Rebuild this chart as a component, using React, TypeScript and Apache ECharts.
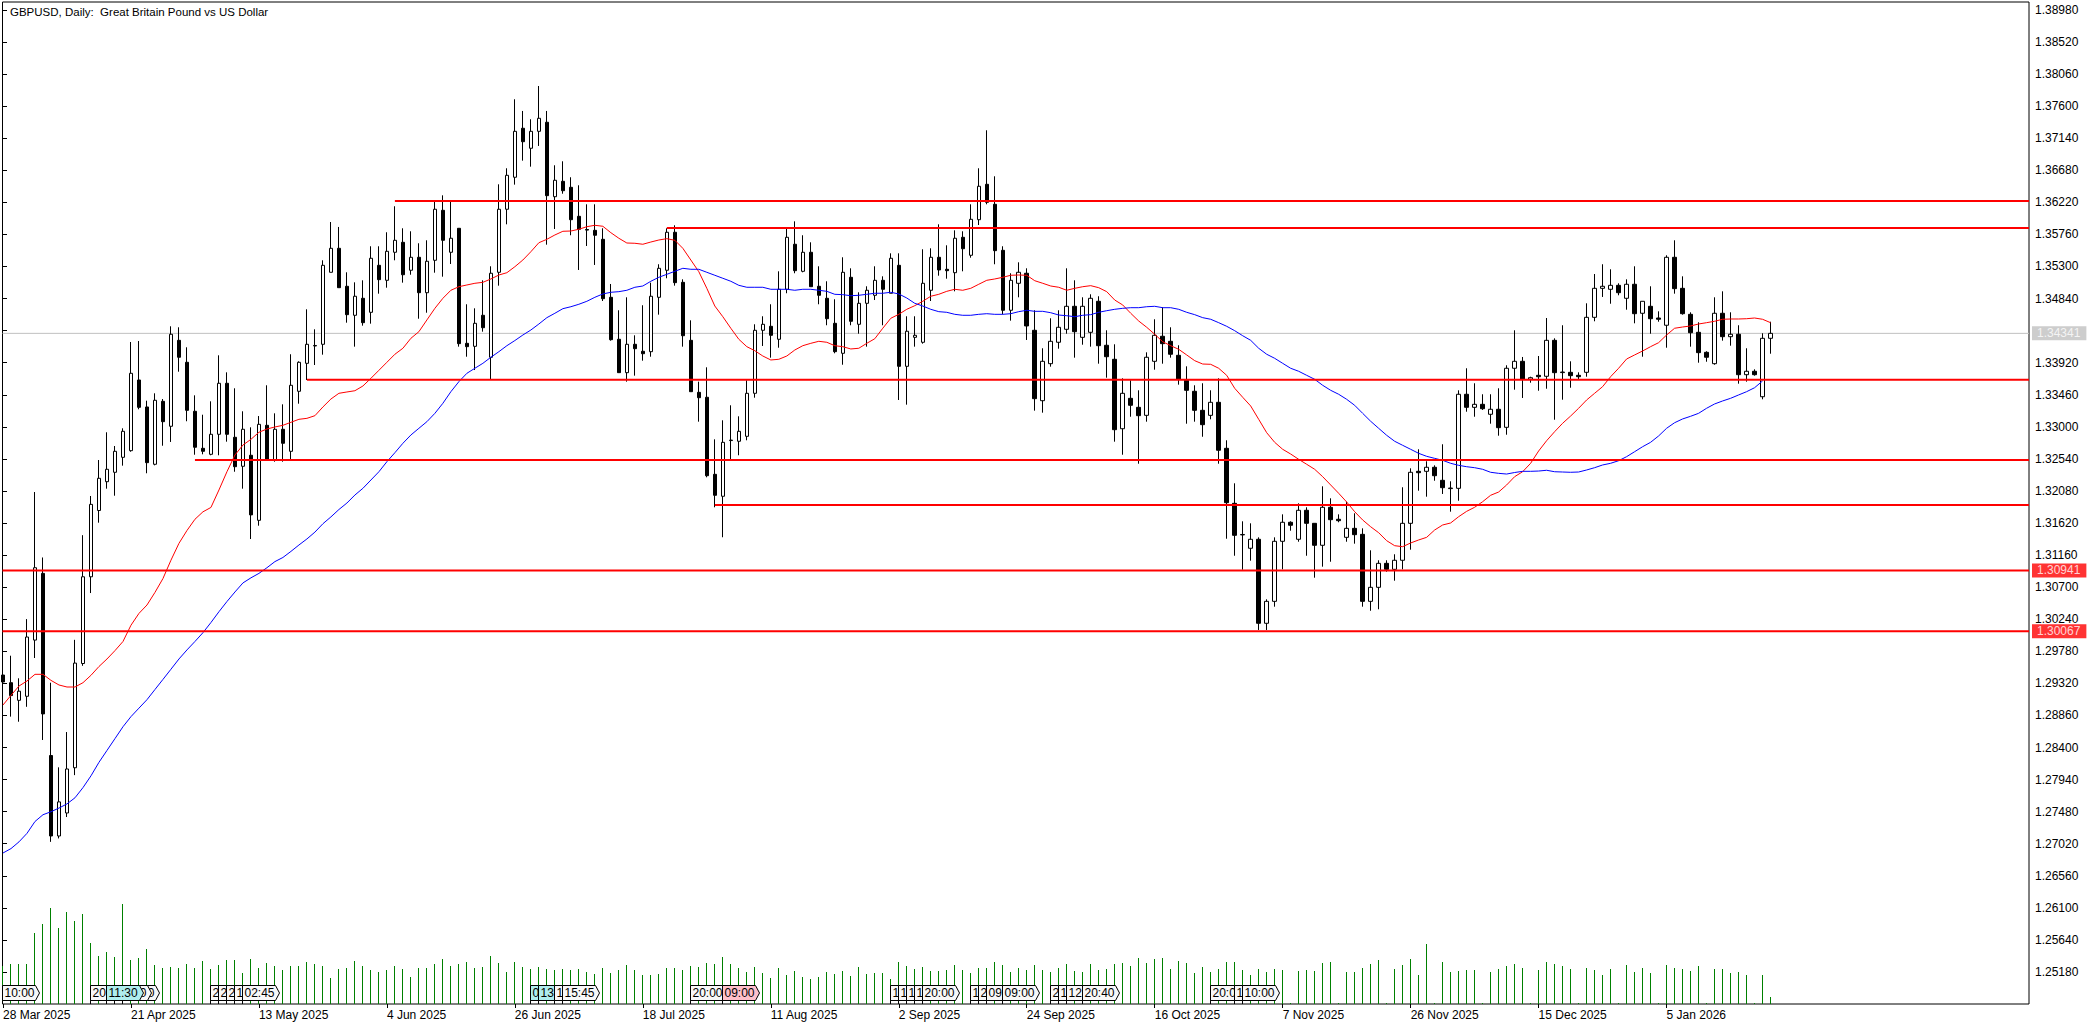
import React, { useEffect, useRef } from "react";
import * as echarts from "echarts";

const FONT = '"Liberation Sans", sans-serif';
const TITLE = "GBPUSD, Daily:  Great Britain Pound vs US Dollar";

// daily bars, oldest first
const opens = [
  1.2944, 1.2933, 1.29077, 1.29135, 1.29941, 1.30898, 1.28285, 1.27131, 1.27461, 1.2811,
  1.29605, 1.30849, 1.318, 1.32213, 1.32348, 1.32563, 1.32658, 1.33672, 1.33285, 1.32463,
  1.33366, 1.33008, 1.34241, 1.33926, 1.33223, 1.32692, 1.32606, 1.32893, 1.33625, 1.3285,
  1.32434, 1.32592, 1.31659, 1.33022, 1.32524, 1.32965, 1.32649, 1.3351, 1.33911, 1.3416,
  1.34184, 1.35217, 1.35561, 1.35016, 1.346, 1.34844, 1.34643, 1.35317, 1.35102, 1.35504,
  1.35647, 1.35246, 1.35432, 1.34924, 1.35389, 1.36106, 1.35504, 1.35848, 1.34198, 1.34155,
  1.346, 1.33998, 1.35217, 1.36121, 1.3658, 1.37283, 1.36996, 1.37239, 1.37369, 1.36301,
  1.36522, 1.36436, 1.3602, 1.3583, 1.35819, 1.3569, 1.34858, 1.34256, 1.33777, 1.34184,
  1.34084, 1.34078, 1.34858, 1.35246, 1.35791, 1.35073, 1.34241, 1.33495, 1.33424, 1.32319,
  1.32004, 1.32803, 1.32793, 1.32864, 1.33481, 1.34385, 1.34442, 1.34256, 1.34973, 1.35619,
  1.35231, 1.35504, 1.35016, 1.34844, 1.34485, 1.34055, 1.35145, 1.34471, 1.34772, 1.34887,
  1.35102, 1.34916, 1.35317, 1.33868, 1.34284, 1.34213, 1.34959, 1.35432, 1.3526, 1.35211,
  1.35719, 1.35461, 1.35971, 1.36479, 1.36192, 1.35532, 1.34672, 1.35059, 1.35203, 1.34385,
  1.33375, 1.33906, 1.34213, 1.34399, 1.34729, 1.34284, 1.34356, 1.34801, 1.3417, 1.33969,
  1.32973, 1.33409, 1.3328, 1.33165, 1.3394, 1.34299, 1.34227, 1.34026, 1.33668, 1.3351,
  1.33237, 1.33165, 1.33352, 1.32692, 1.31903, 1.3145, 1.31258, 1.31387, 1.30182, 1.30497,
  1.31358, 1.31631, 1.31387, 1.31803, 1.31616, 1.31301, 1.31846, 1.31674, 1.31415, 1.31544,
  1.31458, 1.30497, 1.30698, 1.31042, 1.30956, 1.31086, 1.31616, 1.32362, 1.32362, 1.3242,
  1.32233, 1.32114, 1.32118, 1.33467, 1.3328, 1.33323, 1.3318, 1.33252, 1.32993, 1.3384,
  1.3394, 1.33682, 1.33739, 1.33725, 1.34241, 1.33778, 1.33782, 1.33739, 1.33782, 1.34571,
  1.34987, 1.34973, 1.3503, 1.34844, 1.35045, 1.34629, 1.34729, 1.34561, 1.34457, 1.35432,
  1.34987, 1.34614, 1.34356, 1.34069, 1.33906, 1.34629, 1.34293, 1.34328, 1.33748, 1.33797,
  1.33432, 1.3427,
];
const closes = [
  1.2934, 1.29145, 1.29208, 1.29985, 1.30979, 1.28882, 1.27131, 1.2762, 1.28092, 1.29611,
  1.30849, 1.31888, 1.32262, 1.32391, 1.32649, 1.32936, 1.33768, 1.3328, 1.32486, 1.33381,
  1.33074, 1.34328, 1.33998, 1.33237, 1.32707, 1.32649, 1.32893, 1.33625, 1.32893, 1.32428,
  1.32965, 1.31737, 1.33036, 1.32534, 1.32965, 1.32764, 1.33596, 1.33926, 1.34184, 1.34167,
  1.35317, 1.35561, 1.34996, 1.34609, 1.34873, 1.34494, 1.35418, 1.35111, 1.35518, 1.35676,
  1.35182, 1.35432, 1.34924, 1.35375, 1.36121, 1.35676, 1.35705, 1.34193, 1.3415, 1.34485,
  1.34422, 1.35203, 1.36121, 1.36608, 1.37239, 1.3709, 1.37239, 1.37426, 1.36316, 1.36537,
  1.36387, 1.35971, 1.35834, 1.35822, 1.35748, 1.34838, 1.3425, 1.33777, 1.34184, 1.34121,
  1.34049, 1.34873, 1.35274, 1.35791, 1.35068, 1.34307, 1.33504, 1.33418, 1.32299, 1.32018,
  1.32778, 1.3281, 1.32936, 1.33481, 1.34385, 1.34471, 1.34313, 1.34973, 1.35719, 1.3524,
  1.35504, 1.3501, 1.34887, 1.34551, 1.34078, 1.35217, 1.34514, 1.34772, 1.34959, 1.35102,
  1.34973, 1.35418, 1.33868, 1.34371, 1.34313, 1.35059, 1.35432, 1.3525, 1.3524, 1.35705,
  1.35555, 1.35977, 1.36451, 1.36221, 1.35527, 1.34672, 1.35102, 1.35217, 1.34447, 1.33404,
  1.3394, 1.34227, 1.34428, 1.34729, 1.34365, 1.34729, 1.34844, 1.34164, 1.34006, 1.32959,
  1.33481, 1.33309, 1.3316, 1.33998, 1.34313, 1.34193, 1.34041, 1.33682, 1.33524, 1.33237,
  1.33031, 1.33352, 1.32664, 1.31912, 1.31444, 1.31456, 1.31387, 1.30182, 1.30497, 1.31358,
  1.31631, 1.31588, 1.31803, 1.31616, 1.31301, 1.31846, 1.31668, 1.31654, 1.31544, 1.31453,
  1.30497, 1.30698, 1.31042, 1.30956, 1.31086, 1.31616, 1.32348, 1.32342, 1.3242, 1.32299,
  1.32127, 1.32122, 1.33467, 1.3328, 1.33323, 1.3326, 1.33252, 1.32988, 1.3384, 1.3394,
  1.33682, 1.33705, 1.33719, 1.34241, 1.33777, 1.33786, 1.33734, 1.33719, 1.34571, 1.34987,
  1.35016, 1.3503, 1.34924, 1.35045, 1.34623, 1.34801, 1.34551, 1.34543, 1.35432, 1.34982,
  1.34623, 1.3435, 1.34064, 1.33998, 1.34629, 1.34293, 1.34328, 1.33748, 1.33797, 1.33748,
  1.3427, 1.34341,
];
const lows = [
  1.28852, 1.28843, 1.2877, 1.28984, 1.29684, 1.28508, 1.27047, 1.27096, 1.27403, 1.28004,
  1.29572, 1.30616, 1.31625, 1.32113, 1.32012, 1.32443, 1.32643, 1.33252, 1.32334, 1.32448,
  1.32729, 1.32783, 1.33791, 1.3308, 1.326, 1.32606, 1.32592, 1.32592, 1.32787, 1.32356,
  1.32113, 1.31391, 1.31582, 1.32534, 1.325, 1.325, 1.32524, 1.33332, 1.33672, 1.33887,
  1.34035, 1.35217, 1.34996, 1.34494, 1.3415, 1.34451, 1.3448, 1.3491, 1.34996, 1.35389,
  1.35068, 1.35182, 1.34551, 1.34637, 1.35211, 1.35154, 1.35336, 1.3415, 1.34006, 1.33815,
  1.34365, 1.33682, 1.35025, 1.35905, 1.36474, 1.36818, 1.36732, 1.37029, 1.35613, 1.35838,
  1.36344, 1.35748, 1.3525, 1.35594, 1.35322, 1.34805, 1.34236, 1.33777, 1.33648, 1.33734,
  1.33949, 1.34006, 1.34609, 1.35131, 1.35025, 1.3415, 1.33504, 1.33074, 1.32276, 1.31846,
  1.31416, 1.32524, 1.32592, 1.32807, 1.33418, 1.3416, 1.33992, 1.34135, 1.34916, 1.35203,
  1.35217, 1.3501, 1.34758, 1.34457, 1.34055, 1.33891, 1.34457, 1.34336, 1.3415, 1.34819,
  1.34457, 1.34916, 1.33385, 1.33318, 1.3415, 1.34193, 1.34805, 1.35168, 1.35125, 1.34944,
  1.35231, 1.35426, 1.35895, 1.36192, 1.35332, 1.34614, 1.34523, 1.34858, 1.34246, 1.33232,
  1.33203, 1.33863, 1.34121, 1.34336, 1.33992, 1.34178, 1.3415, 1.33906, 1.33705, 1.32787,
  1.326, 1.33145, 1.32471, 1.33074, 1.3382, 1.33906, 1.33992, 1.33605, 1.33045, 1.33074,
  1.32858, 1.33108, 1.32471, 1.31395, 1.31151, 1.30951, 1.3108, 1.30086, 1.30086, 1.3042,
  1.30956, 1.3151, 1.31352, 1.31151, 1.30836, 1.30994, 1.31065, 1.31631, 1.31352, 1.31324,
  1.3042, 1.30362, 1.30383, 1.30922, 1.30793, 1.30956, 1.31238, 1.32084, 1.31998, 1.32227,
  1.32037, 1.31783, 1.3194, 1.33217, 1.33145, 1.33242, 1.33045, 1.32873, 1.32887, 1.33533,
  1.33414, 1.33633, 1.33518, 1.33547, 1.33102, 1.33389, 1.33561, 1.33682, 1.33719, 1.34514,
  1.34863, 1.34766, 1.34887, 1.3468, 1.34485, 1.34006, 1.34336, 1.34508, 1.34135, 1.3491,
  1.34609, 1.3415, 1.3392, 1.33934, 1.33891, 1.34236, 1.34164, 1.33619, 1.33648, 1.33734,
  1.33395, 1.34049,
];
const highs = [
  1.29655, 1.29717, 1.29393, 1.30242, 1.32065, 1.31126, 1.2933, 1.28116, 1.28622, 1.29945,
  1.31446, 1.32008, 1.32524, 1.32922, 1.32725, 1.32979, 1.34217, 1.34231, 1.33375, 1.33481,
  1.33399, 1.34442, 1.34428, 1.34141, 1.33452, 1.33174, 1.33366, 1.34026, 1.33782, 1.33553,
  1.33223, 1.32993, 1.33155, 1.33596, 1.33194, 1.33323, 1.34041, 1.3394, 1.34686, 1.34399,
  1.35389, 1.35938, 1.35867, 1.35217, 1.35073, 1.35102, 1.3559, 1.3559, 1.35791, 1.36164,
  1.35848, 1.35805, 1.35633, 1.35676, 1.36235, 1.36321, 1.36235, 1.35848, 1.34758, 1.347,
  1.35102, 1.35303, 1.36479, 1.36709, 1.37699, 1.37531, 1.37412, 1.37889, 1.37531, 1.36752,
  1.36809, 1.3658, 1.36465, 1.36192, 1.36192, 1.35848, 1.35049, 1.34672, 1.34858, 1.34313,
  1.34744, 1.35068, 1.35332, 1.35848, 1.35891, 1.35116, 1.34528, 1.33648, 1.33854, 1.32821,
  1.33094, 1.33309, 1.33151, 1.33668, 1.34471, 1.34586, 1.34758, 1.35231, 1.35848, 1.35948,
  1.35748, 1.35647, 1.35303, 1.35088, 1.3483, 1.35432, 1.35274, 1.3493, 1.35016, 1.35303,
  1.35159, 1.35489, 1.35489, 1.34586, 1.34586, 1.35547, 1.35561, 1.35905, 1.35604, 1.35819,
  1.35805, 1.36192, 1.36709, 1.37254, 1.36594, 1.3559, 1.35203, 1.3536, 1.35274, 1.34672,
  1.34127, 1.34557, 1.34672, 1.35274, 1.35102, 1.34858, 1.34901, 1.34873, 1.34385, 1.34184,
  1.33696, 1.33668, 1.33524, 1.34069, 1.34543, 1.34715, 1.34428, 1.3417, 1.33868, 1.33596,
  1.33625, 1.33524, 1.33696, 1.32807, 1.3219, 1.31645, 1.31616, 1.31415, 1.30526, 1.31415,
  1.31745, 1.31645, 1.31903, 1.31846, 1.31616, 1.32147, 1.31975, 1.31745, 1.31926, 1.3176,
  1.31544, 1.31229, 1.31086, 1.31086, 1.31172, 1.32133, 1.32405, 1.32678, 1.32506, 1.32448,
  1.3275, 1.32219, 1.33524, 1.3384, 1.33625, 1.33467, 1.33467, 1.33553, 1.33883, 1.34385,
  1.34002, 1.33719, 1.34016, 1.34561, 1.3427, 1.34457, 1.3394, 1.33782, 1.34772, 1.35192,
  1.35332, 1.3526, 1.35059, 1.35116, 1.35303, 1.34801, 1.35016, 1.34657, 1.35461, 1.35676,
  1.35159, 1.34643, 1.345, 1.34084, 1.34858, 1.34944, 1.34643, 1.34457, 1.34127, 1.33825,
  1.34342, 1.34508,
];

const redMa = [
  1.2901, 1.29149, 1.29282, 1.29354, 1.2945, 1.2945, 1.29363, 1.29297, 1.29268, 1.29268,
  1.2933, 1.29436, 1.29562, 1.2967, 1.2979, 1.29921, 1.30154, 1.30324, 1.30444, 1.30625,
  1.30824, 1.31087, 1.31329, 1.31513, 1.31674, 1.31781, 1.31844, 1.32094, 1.32356, 1.32596,
  1.32739, 1.32821, 1.32922, 1.32969, 1.32998, 1.33022, 1.33065, 1.33108, 1.33122, 1.3316,
  1.33285, 1.33399, 1.33481, 1.335, 1.33518, 1.33586, 1.33696, 1.33811, 1.33926, 1.34041,
  1.34127, 1.3427, 1.34365, 1.34533, 1.347, 1.34844, 1.34959, 1.3501, 1.35035, 1.35059,
  1.35073, 1.35121, 1.35178, 1.35211, 1.35297, 1.35393, 1.35512, 1.35641, 1.3569, 1.35752,
  1.35805, 1.35809, 1.35834, 1.35871, 1.35891, 1.35877, 1.35785, 1.35705, 1.35637, 1.35633,
  1.35619, 1.35651, 1.3568, 1.35699, 1.35676, 1.35561, 1.35393, 1.35225, 1.34987, 1.34733,
  1.3458, 1.34414, 1.34256, 1.3415, 1.34092, 1.34016, 1.33959, 1.33969, 1.34016, 1.34102,
  1.34164, 1.34198, 1.34227, 1.34213, 1.34164, 1.3415, 1.34117, 1.34127, 1.34198, 1.34264,
  1.34414, 1.34557, 1.34614, 1.34686, 1.34738, 1.34801, 1.34873, 1.34901, 1.34944, 1.34973,
  1.34959, 1.34987, 1.35045, 1.35102, 1.35121, 1.35145, 1.35174, 1.35178, 1.35174, 1.35096,
  1.35059, 1.3502, 1.35002, 1.34959, 1.34987, 1.3501, 1.35025, 1.34996, 1.34939, 1.34819,
  1.34748, 1.34629, 1.34518, 1.34428, 1.34328, 1.34221, 1.34164, 1.34112, 1.34031, 1.33949,
  1.33901, 1.33897, 1.3384, 1.33739, 1.33553, 1.33424, 1.33299, 1.33108, 1.32916, 1.32778,
  1.32678, 1.3261, 1.32534, 1.32463, 1.32391, 1.32285, 1.32166, 1.32047, 1.31922, 1.31783,
  1.31664, 1.31567, 1.31481, 1.31367, 1.31295, 1.31281, 1.31334, 1.31377, 1.31415, 1.3152,
  1.31592, 1.31621, 1.31711, 1.31788, 1.31846, 1.31926, 1.32018, 1.32065, 1.32166, 1.32285,
  1.32356, 1.32477, 1.32653, 1.32801, 1.3293, 1.33051, 1.33155, 1.33266, 1.33385, 1.33481,
  1.33576, 1.33719, 1.3384, 1.33973, 1.34031, 1.34088, 1.3415, 1.34207, 1.34317, 1.34414,
  1.34432, 1.34447, 1.34475, 1.34494, 1.34514, 1.34543, 1.34547, 1.34547, 1.34551, 1.34561,
  1.34543, 1.34494,
];
const blueMa = [
  1.26887, 1.2695, 1.27047, 1.27169, 1.27339, 1.27436, 1.27479, 1.27532, 1.27591, 1.27679,
  1.27825, 1.27994, 1.28188, 1.28358, 1.28528, 1.28698, 1.28843, 1.28965, 1.29086, 1.29232,
  1.29377, 1.29523, 1.2967, 1.298, 1.29921, 1.30047, 1.30193, 1.30348, 1.30494, 1.30631,
  1.30761, 1.30834, 1.30898, 1.30979, 1.31067, 1.31126, 1.31213, 1.31305, 1.31392, 1.3149,
  1.3161, 1.31708, 1.31814, 1.31907, 1.32022, 1.32118, 1.32237, 1.32356, 1.325, 1.32629,
  1.32764, 1.32883, 1.32979, 1.33074, 1.33194, 1.33338, 1.33504, 1.33648, 1.33768, 1.3384,
  1.33911, 1.33998, 1.34078, 1.34164, 1.34238, 1.34317, 1.34389, 1.34475, 1.34566, 1.34629,
  1.34695, 1.34723, 1.34758, 1.34801, 1.34858, 1.34906, 1.3493, 1.34939, 1.34959, 1.35002,
  1.3502, 1.35088, 1.35145, 1.35188, 1.35231, 1.35274, 1.3526, 1.3526, 1.35217, 1.35174,
  1.35131, 1.35088, 1.3503, 1.35002, 1.35002, 1.35002, 1.34973, 1.34973, 1.34973, 1.34959,
  1.34973, 1.34973, 1.34959, 1.34944, 1.34901, 1.34896, 1.34881, 1.34887, 1.34901, 1.34916,
  1.34916, 1.3493, 1.34906, 1.34848, 1.34772, 1.34733, 1.34686, 1.34652, 1.34643, 1.34614,
  1.346, 1.346, 1.34614, 1.34623, 1.34614, 1.34614, 1.34623, 1.34652, 1.34672, 1.34657,
  1.34657, 1.34637, 1.34604, 1.34594, 1.3458, 1.346, 1.34609, 1.34643, 1.34666, 1.34686,
  1.347, 1.34709, 1.34709, 1.34723, 1.34729, 1.34709, 1.34709, 1.34686, 1.34643, 1.34609,
  1.34566, 1.34543, 1.34494, 1.34442, 1.34379, 1.34307, 1.34241, 1.34127, 1.34041, 1.33983,
  1.33911, 1.3384, 1.33797, 1.33739, 1.33682, 1.33596, 1.33524, 1.33467, 1.33395, 1.33309,
  1.33194, 1.3308, 1.32979, 1.32879, 1.32793, 1.32735, 1.32678, 1.3262, 1.32577, 1.32548,
  1.3252, 1.32477, 1.32448, 1.32428, 1.32414, 1.32391, 1.32348, 1.32333, 1.32323, 1.32345,
  1.32362, 1.32362, 1.32366, 1.32377, 1.32356, 1.32352, 1.32348, 1.32352, 1.32381, 1.32414,
  1.32453, 1.32477, 1.32514, 1.32572, 1.32643, 1.32715, 1.32778, 1.32869, 1.32979, 1.33059,
  1.33113, 1.33151, 1.33194, 1.33266, 1.33328, 1.33371, 1.33409, 1.33457, 1.33504, 1.33561,
  1.33658,
];
const tickVolumes = [
  38, 40, 40, 40, 71, 80, 96, 76, 92, 83, 90, 61, 48, 52, 47, 100, 44, 46, 55, 39,
  36, 37, 36, 40, 36, 43, 35, 39, 44, 44, 31, 45, 36, 41, 38, 34, 38, 38, 42, 40,
  38, 26, 35, 36, 43, 38, 34, 32, 34, 38, 35, 27, 36, 36, 40, 45, 38, 40, 42, 36,
  37, 48, 41, 32, 42, 37, 35, 37, 35, 34, 35, 34, 35, 32, 30, 36, 31, 34, 39, 34,
  29, 29, 30, 36, 36, 34, 38, 37, 41, 40, 47, 40, 36, 32, 37, 31, 26, 36, 29, 33,
  27, 25, 27, 32, 30, 33, 28, 37, 30, 31, 31, 25, 42, 38, 35, 37, 33, 33, 34, 39,
  34, 31, 36, 36, 42, 39, 32, 36, 34, 39, 34, 32, 36, 40, 33, 32, 40, 34, 35, 40,
  41, 38, 46, 41, 45, 46, 35, 43, 41, 31, 37, 32, 35, 42, 42, 34, 29, 35, 32, 35,
  34, 1, 33, 34, 33, 41, 42, 1, 32, 32, 36, 40, 44, 1, 35, 39, 45, 29, 60, 1,
  42, 32, 33, 34, 34, 1, 32, 35, 38, 40, 36, 1, 34, 42, 40, 38, 35, 1, 36, 34,
  29, 35, 1, 39, 32, 36, 31, 1, 39, 36, 35, 33, 38, 1, 35, 35, 31, 32, 29, 1,
  29, 7,
];

const priceTicks = [
  1.2518, 1.2564, 1.261, 1.2656, 1.2702, 1.2748, 1.2794, 1.284, 1.2886, 1.2932, 1.2978,
  1.3024, 1.307, 1.3116, 1.3162, 1.3208, 1.3254, 1.33, 1.3346, 1.3392, 1.3438, 1.3484,
  1.353, 1.3576, 1.3622, 1.3668, 1.3714, 1.376, 1.3806, 1.3852, 1.3898,
];
// 1.34380 sits under the last price tag, so it gets a tick but no label
const priceLabels = priceTicks.filter((p) => p !== 1.3438);
const dateTickBars = [0, 16, 32, 48, 64, 80, 96, 112, 128, 144, 160, 176, 192, 208];
const dateTickLabels = [
  "28 Mar 2025", "21 Apr 2025", "13 May 2025", "4 Jun 2025", "26 Jun 2025", "18 Jul 2025", "11 Aug 2025",
  "2 Sep 2025", "24 Sep 2025", "16 Oct 2025", "7 Nov 2025", "26 Nov 2025", "15 Dec 2025", "5 Jan 2026",
];

// support / resistance lines drawn by hand on the chart
const levelPrices = [1.3624, 1.35852, 1.33676, 1.32524, 1.31879, 1.30941, 1.30067];
const levelStartBars = [49, 83, 38, 24, 89, 0, 0];

const lastPrice = 1.34341;
const tagPrices = [1.34341, 1.30941, 1.30067];
const tagColors = ["#c0c0c0", "#ff0000", "#ff0000"];

// calendar event flags, later ones are painted over earlier ones, so only the part that shows is kept as text
const flagBars = [0, 11, 15, 14, 13, 26, 27, 28, 29, 30, 66, 67, 69, 70, 86, 90, 111, 112, 113, 114, 115, 121, 122, 123, 125, 131, 132, 133, 135, 151, 154, 155];
const flagTexts = ["10:00", "20", "0", "0", "11:30", "2", "2", "2", "1", "02:45", "0", "13", "1", "15:45", "20:00", "09:00", "1", "1", "1", "1", "20:00", "1", "2", "09", "09:00", "2", "1", "12", "20:40", "20:0", "1", "10:00"];
const flagColors: Record<number, string> = { 13: "#afeeee", 66: "#afeeee", 67: "#afeeee", 90: "#ffc0cb" };
const tailOnlyFlags = [14, 15];

// half a pixel of padding so one-pixel marks land on whole pixels
const FIRST_SLOT = -0.0625;
const LAST_SLOT = 253.3125;

const App = () => {
  const chartRef = useRef<HTMLDivElement>(null);

  useEffect(() => {
    const chart = echarts.init(chartRef.current, null, { renderer: "svg" });

    const option: any = {
      animation: false,
      backgroundColor: "#fff",
      graphic: [
        {
          type: "text",
          left: 10,
          top: 6,
          style: { text: TITLE, font: `11.5px ${FONT}`, fill: "#000" },
        },
      ],
      grid: [
        { left: 2, right: 70, top: 2, height: 1002, show: true, borderColor: "#000", borderWidth: 1, backgroundColor: "transparent" },
        { left: 2, right: 70, top: 904, height: 100, show: false },
      ],
      xAxis: [
        {
          type: "value",
          gridIndex: 0,
          min: FIRST_SLOT,
          max: LAST_SLOT,
          splitLine: { show: false },
          axisLine: { show: false },
          axisTick: { customValues: dateTickBars, length: 4, lineStyle: { color: "#000" } },
          axisLabel: {
            customValues: dateTickBars,
            formatter: (v: number) => dateTickLabels[dateTickBars.indexOf(v)],
            align: "left",
            margin: 5,
            fontFamily: FONT,
            fontSize: 12,
            color: "#000",
          },
        },
        { type: "value", gridIndex: 1, min: FIRST_SLOT, max: LAST_SLOT, show: false },
      ],
      yAxis: [
        {
          type: "value",
          gridIndex: 0,
          position: "right",
          min: 1.24721,
          max: 1.39094,
          splitLine: { show: false },
          axisLine: { show: false },
          axisTick: { customValues: priceTicks, length: 4, lineStyle: { color: "#000" } },
          axisLabel: {
            customValues: priceLabels,
            formatter: (v: number) => v.toFixed(5),
            margin: 6,
            fontFamily: FONT,
            fontSize: 12,
            color: "#000",
          },
        },
        { type: "value", gridIndex: 1, min: 0, max: 100, show: false },
      ],
      series: [
        {
          type: "bar",
          xAxisIndex: 1,
          yAxisIndex: 1,
          barWidth: 1,
          itemStyle: { color: "#008000" },
          data: tickVolumes.map((v, i) => [i, v]),
          z: 1,
        },
        {
          type: "line",
          data: [[FIRST_SLOT, lastPrice], [LAST_SLOT, lastPrice]],
          showSymbol: false,
          lineStyle: { color: "#c0c0c0", width: 1 },
          z: 1,
        },
        {
          type: "candlestick",
          barWidth: 4,
          data: opens.map((o, i) => [i, o, closes[i], lows[i], highs[i]]),
          itemStyle: { color: "#fff", color0: "#000", borderColor: "#000", borderColor0: "#000", borderWidth: 1 },
          z: 2,
        },
        {
          type: "line",
          data: redMa.map((v, i) => [i, v]),
          showSymbol: false,
          lineStyle: { color: "#ff0000", width: 1 },
          z: 3,
        },
        {
          type: "line",
          data: blueMa.map((v, i) => [i, v]),
          showSymbol: false,
          lineStyle: { color: "#0000ff", width: 1 },
          z: 3,
        },
        ...levelPrices.map((p, i) => ({
          type: "line",
          data: [[levelStartBars[i] || FIRST_SLOT, p], [LAST_SLOT, p]],
          showSymbol: false,
          lineStyle: { color: "#ff0000", width: 2 },
          z: 4,
        })),
        {
          type: "custom",
          xAxisIndex: 1,
          yAxisIndex: 1,
          data: flagBars.map((b) => [b, 0]),
          z: 5,
          clip: false,
          renderItem: (params: any, api: any) => {
            const bar = flagBars[params.dataIndex];
            const [x, y] = api.coord([api.value(0), 0]);
            const top = y - 18.5;
            const bottom = y - 3.5;
            const tailOnly = tailOnlyFlags.includes(bar);
            return {
              type: "group",
              children: [
                {
                  type: "polygon",
                  shape: { points: [[x, top], [x + 33, top], [x + 37, (top + bottom) / 2], [x + 33, bottom], [x, bottom]] },
                  style: { fill: flagColors[bar] || "#f8f8f8", stroke: "#000", lineWidth: 1 },
                },
                { type: "line", shape: { x1: x, y1: bottom, x2: x, y2: y }, style: { stroke: "#000", lineWidth: 1 } },
                {
                  type: "text",
                  style: {
                    text: flagTexts[params.dataIndex],
                    x: tailOnly ? x + 32 : x + 2,
                    y: (top + bottom) / 2,
                    align: tailOnly ? "right" : "left",
                    verticalAlign: "middle",
                    font: `12px ${FONT}`,
                    fill: "#000",
                  },
                },
              ],
            };
          },
        },
        {
          type: "scatter",
          symbolSize: 0,
          clip: false,
          z: 6,
          data: tagPrices.map((p, i) => ({
            value: [LAST_SLOT, p],
            label: {
              show: true,
              position: "right",
              distance: 3,
              formatter: p.toFixed(5),
              fontFamily: FONT,
              fontSize: 12,
              color: "#fff",
              backgroundColor: tagColors[i],
              padding: [1, 6, 0, 5],
              lineHeight: 13,
            },
          })),
        },
      ],
    };

    chart.setOption(option);

    return () => {
      chart.dispose();
    };
  }, []);

  return <div ref={chartRef} style={{ position: "fixed", left: 0, top: 0, width: 2099, height: 1028 }} />;
};

export default App;
